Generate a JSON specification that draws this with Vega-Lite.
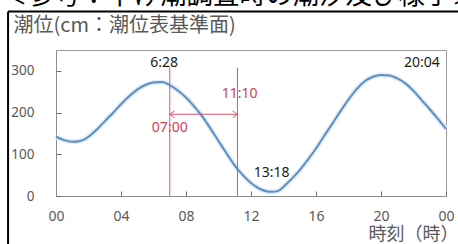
{
  "$schema": "https://vega.github.io/schema/vega-lite/v6.json",
  "width": 390,
  "height": 146,
  "autosize": {"type": "none"},
  "padding": {"left": 56, "top": 50, "right": 12, "bottom": 48},
  "background": "white",
  "title": {
    "text": "＜参考：下げ潮調査時の潮汐及び様子＞",
    "anchor": "start",
    "frame": "group",
    "font": "Noto Sans CJK JP",
    "fontSize": 26.5,
    "fontWeight": "normal",
    "color": "#000000",
    "dx": -55,
    "dy": -1,
    "offset": 0
  },
  "config": {
    "view": {"stroke": "#9a9a9a", "strokeWidth": 1},
    "font": "Noto Sans",
    "axis": {
      "grid": false,
      "labelOverlap": false,
      "domainColor": "#8c8c8c",
      "tickColor": "#6a6a6a",
      "labelColor": "#595959",
      "titleColor": "#595959",
      "labelFont": "Noto Sans",
      "titleFont": "Noto Sans CJK JP",
      "titleFontWeight": "normal",
      "labelFontSize": 14
    }
  },
  "datasets": {
    "tide": [
      {"t": 0, "level": 142}, {"t": 0.5, "level": 134}, {"t": 1, "level": 130}, {"t": 1.5, "level": 132},
      {"t": 2, "level": 142}, {"t": 2.5, "level": 159}, {"t": 3, "level": 179}, {"t": 3.5, "level": 199},
      {"t": 4, "level": 220}, {"t": 4.5, "level": 239}, {"t": 5, "level": 255}, {"t": 5.5, "level": 266},
      {"t": 6, "level": 272}, {"t": 6.5, "level": 273}, {"t": 7, "level": 266}, {"t": 7.5, "level": 253},
      {"t": 8, "level": 236}, {"t": 8.5, "level": 215}, {"t": 9, "level": 191}, {"t": 9.5, "level": 162},
      {"t": 10, "level": 132}, {"t": 10.5, "level": 102}, {"t": 11, "level": 73}, {"t": 11.5, "level": 50},
      {"t": 12, "level": 31}, {"t": 12.5, "level": 18}, {"t": 13, "level": 11}, {"t": 13.3, "level": 10},
      {"t": 13.7, "level": 13}, {"t": 14, "level": 22}, {"t": 14.5, "level": 41}, {"t": 15, "level": 62},
      {"t": 15.5, "level": 87}, {"t": 16, "level": 114}, {"t": 16.5, "level": 144}, {"t": 17, "level": 173},
      {"t": 17.5, "level": 203}, {"t": 18, "level": 231}, {"t": 18.5, "level": 256}, {"t": 19, "level": 275},
      {"t": 19.5, "level": 286}, {"t": 20, "level": 290}, {"t": 20.5, "level": 289}, {"t": 21, "level": 282},
      {"t": 21.5, "level": 270}, {"t": 22, "level": 252}, {"t": 22.5, "level": 230}, {"t": 23, "level": 208},
      {"t": 23.5, "level": 185}, {"t": 24, "level": 161}
    ],
    "survey": [{"t": 7}, {"t": 11.1667}],
    "span": [{"t": 7, "t2": 11.1667}],
    "heads": [{"t": 7, "dir": "l"}, {"t": 11.1667, "dir": "r"}],
    "redNotes": [{"t": 7, "level": 164, "label": "07:00"}, {"t": 11.3, "level": 245, "label": "11:10"}],
    "blackNotes": [
      {"t": 6.65, "level": 319, "label": "6:28"},
      {"t": 13.27, "level": 54, "label": "13:18"},
      {"t": 22.52, "level": 319, "label": "20:04"}
    ]
  },
  "layer": [
    {
      "data": {"name": "tide"},
      "mark": {"type": "line", "interpolate": "monotone", "color": "#dfecf8", "strokeWidth": 5},
      "encoding": {
        "x": {
          "field": "t", "type": "quantitative", "scale": {"domain": [0, 24], "nice": false},
          "axis": {
            "values": [0,1,2,3,4,5,6,7,8,9,10,11,12,13,14,15,16,17,18,19,20,21,22,23,24],
            "tickSize": -5,
            "labelPadding": 18,
            "labelFlush": false,
            "labelOverlap": false,
            "labelBound": false,
            "labelExpr": "datum.value % 4 == 0 ? (datum.value == 24 ? '00' : (datum.value < 10 ? '0' + datum.value : '' + datum.value)) : ''",
            "title": "時刻（時）",
            "titleFontSize": 18,
            "titleX": 402,
            "titleY": 38,
            "titleAlign": "right",
            "titleBaseline": "middle"
          }
        },
        "y": {
          "field": "level", "type": "quantitative", "scale": {"domain": [0, 350], "nice": false},
          "axis": {
            "values": [0, 50, 100, 150, 200, 250, 300, 350],
            "tickSize": -5,
            "labelPadding": 27,
            "labelOverlap": false,
            "labelBound": false,
            "labelFlush": false,
            "labelFontSize": 13.5,
            "title": "潮位(cm：潮位表基準面)",
            "titleFontSize": 20,
            "titleAngle": 0,
            "titleX": -43,
            "titleY": -25,
            "titleAlign": "left",
            "titleBaseline": "middle"
          }
        }
      }
    },
    {
      "data": {"name": "tide"},
      "mark": {"type": "line", "interpolate": "monotone", "color": "#5f8fbe", "strokeWidth": 2},
      "encoding": {
        "x": {"field": "t", "type": "quantitative"},
        "y": {"field": "level", "type": "quantitative"}
      }
    },
    {
      "data": {"name": "survey"},
      "mark": {"type": "rule", "color": "#d45a6a", "strokeWidth": 1},
      "encoding": {
        "x": {"field": "t", "type": "quantitative"},
        "y": {"datum": 308, "type": "quantitative"},
        "y2": {"datum": 0}
      }
    },
    {
      "data": {"name": "span"},
      "mark": {"type": "rule", "color": "#d45a6a", "strokeWidth": 1},
      "encoding": {
        "x": {"field": "t", "type": "quantitative"},
        "x2": {"field": "t2"},
        "y": {"datum": 196, "type": "quantitative"}
      }
    },
    {
      "data": {"name": "heads"},
      "mark": {"type": "point", "filled": false, "color": "#d45a6a", "strokeWidth": 1, "size": 90, "opacity": 1},
      "encoding": {
        "x": {"field": "t", "type": "quantitative"},
        "y": {"datum": 196, "type": "quantitative"},
        "shape": {
          "field": "dir", "type": "nominal", "legend": null,
          "scale": {"domain": ["l", "r"], "range": ["M1,-0.7L0,0L1,0.7", "M-1,-0.7L0,0L-1,0.7"]}
        }
      }
    },
    {
      "data": {"name": "redNotes"},
      "mark": {"type": "text", "color": "#cc4455", "fontSize": 14, "font": "Noto Sans", "align": "center", "baseline": "middle"},
      "encoding": {
        "x": {"field": "t", "type": "quantitative"},
        "y": {"field": "level", "type": "quantitative"},
        "text": {"field": "label"}
      }
    },
    {
      "data": {"name": "blackNotes"},
      "mark": {"type": "text", "color": "#1a1a1a", "fontSize": 14, "font": "Noto Sans", "align": "center", "baseline": "middle"},
      "encoding": {
        "x": {"field": "t", "type": "quantitative"},
        "y": {"field": "level", "type": "quantitative"},
        "text": {"field": "label"}
      }
    },
    {
      "data": {"values": [{}]},
      "mark": {"type": "rule", "color": "#000000", "strokeWidth": 2},
      "encoding": {
        "x": {"datum": -2.95, "type": "quantitative"},
        "y": {"datum": 442, "type": "quantitative"},
        "y2": {"datum": -130}
      }
    },
    {
      "data": {"values": [{}]},
      "mark": {"type": "rule", "color": "#000000", "strokeWidth": 2},
      "encoding": {
        "x": {"datum": -2.95, "type": "quantitative"},
        "x2": {"datum": 30},
        "y": {"datum": 442, "type": "quantitative"}
      }
    }
  ]
}
